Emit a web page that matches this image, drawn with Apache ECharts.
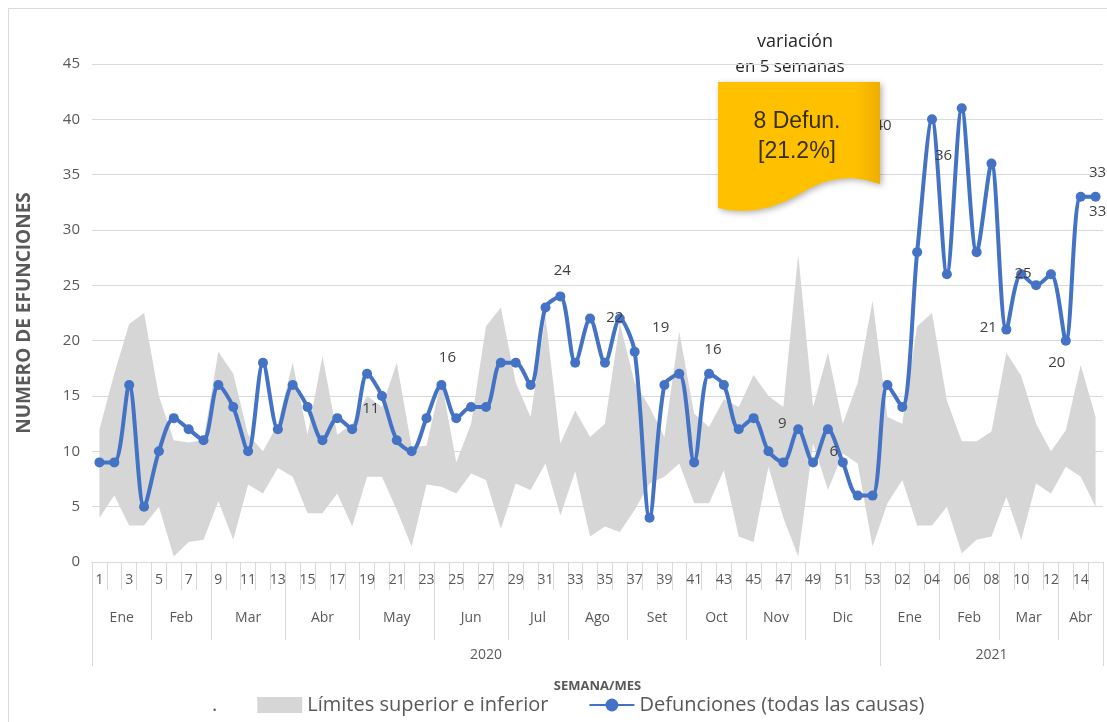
<!DOCTYPE html>
<html>
<head>
<meta charset="utf-8">
<script src="https://cdn.jsdelivr.net/npm/echarts@6/dist/echarts.min.js"></script>
<style>
  html, body { margin: 0; padding: 0; background: #fff; }
  #chart { width: 1107px; height: 722px; }
</style>
</head>
<body>
<div id="chart"></div>
<script>
// ---------------- data ----------------

// week labels: 2020 weeks 1..53, then 2021 weeks 01..15
const weekLabels = [
  "1","2","3","4","5","6","7","8","9","10","11","12","13","14","15","16","17","18","19","20",
  "21","22","23","24","25","26","27","28","29","30","31","32","33","34","35","36","37","38","39","40",
  "41","42","43","44","45","46","47","48","49","50","51","52","53",
  "01","02","03","04","05","06","07","08","09","10","11","12","13","14","15"
];

const months = ["Ene","Feb","Mar","Abr","May","Jun","Jul","Ago","Set","Oct","Nov","Dic","Ene","Feb","Mar","Abr"];
const monthWeeks = [4, 4, 5, 5, 5, 5, 4, 4, 4, 4, 4, 5, 4, 4, 4, 3];

const years = ["2020", "2021"];
const yearWeeks = [53, 15];

// Defunciones (todas las causas)
const deaths = [
  9, 9, 16, 5, 10, 13, 12, 11, 16, 14, 10, 18, 12, 16, 14, 11, 13, 12, 17, 15,
  11, 10, 13, 16, 13, 14, 14, 18, 18, 16, 23, 24, 18, 22, 18, 22, 19, 4, 16, 17,
  9, 17, 16, 12, 13, 10, 9, 12, 9, 12, 9, 6, 6,
  16, 14, 28, 40, 26, 41, 28, 36, 21, 26, 25, 26, 20, 33, 33
];

// Limites superior e inferior
const upperLimit = [
  12, 17, 21.5, 22.5, 15, 11, 10.8, 11, 19, 17, 11.5, 10, 12.5, 18, 11.5, 18.6, 11.5, 12.5, 15, 14,
  18, 10.4, 10.5, 16.4, 9, 12.5, 21.3, 23, 16.2, 13.1, 22.2, 10.7, 13.7, 11.3, 12.5, 21.6, 16.2, 14, 11.3, 20.8,
  13.4, 12.2, 14.7, 14, 16.9, 15, 14, 27.8, 14, 18.9, 12.5, 16.2, 23.6,
  13.1, 12.5, 21.3, 22.5, 14.6, 10.9, 10.9, 11.8, 18.9, 16.8, 12.5, 10, 11.9, 17.8, 13.1
];
const lowerLimit = [
  4, 6, 3.3, 3.3, 5, 0.5, 1.8, 2, 5.5, 2, 7, 6.2, 8.5, 7.7, 4.4, 4.4, 6.2, 3.2, 7.7, 7.7,
  4.7, 1.4, 7, 6.8, 6.2, 8, 7.4, 3, 7.1, 6.5, 8.9, 4.2, 8.2, 2.3, 3.2, 2.7, 4.7, 7.1, 7.7, 8.9,
  5.3, 5.3, 8.3, 2.3, 1.8, 8.6, 4, 0.5, 10.7, 6.5, 9.8, 8.9, 1.4,
  5.3, 7.4, 3.3, 3.3, 5, 0.8, 2, 2.3, 5.9, 2, 7.1, 6.2, 8.6, 7.7, 5
];

// ---------------- label placement (Excel-style, offsets in px from point) ----------------

const labelOffsets = {
  20: [-26, -32],
  23: [6, -27],
  31: [2, -26],
  35: [-5, -1],
  36: [26, -24],
  42: [-11, -35],
  46: [-1, -39],
  51: [-24, -44],
  56: [-49, 6],
  60: [-48, -8],
  61: [-18, -2],
  63: [-13, -12],
  65: [-9, 22],
  66: [17, 15],
  67: [2, -24],
};

// ---------------- helpers ----------------

function cumulative(list) {
  const out = [0];
  for (const n of list) out.push(out[out.length - 1] + n);
  return out;
}

const monthBounds = cumulative(monthWeeks);
const monthCenters = months.map((_, i) => (monthBounds[i] + monthBounds[i + 1]) / 2);
const yearBounds = cumulative(yearWeeks);
const yearCenters = years.map((_, i) => (yearBounds[i] + yearBounds[i + 1]) / 2);
const nCat = weekLabels.length;

const bandData = upperLimit.map((u, i) => +(u - lowerLimit[i]).toFixed(2));

const deathData = deaths.map((v, i) => {
  const off = labelOffsets[i];
  if (!off) return v;
  return { value: v, label: { show: true, position: "inside", offset: off } };
});

const textColor = "#595959";
const gridColor = "#d9d9d9";
const font = "'Open Sans', sans-serif";

// callout outline ("document" shape with wavy bottom), local px
const calloutShape = [
  [0, 0], [162, 0], [162, 102], [148, 98], [134, 96], [120, 97], [106, 100],
  [92, 106], [80, 113], [66, 120], [52, 125], [38, 128], [24, 129], [10, 128], [0, 126]
];

// ---------------- chart ----------------

const chart = echarts.init(document.getElementById("chart"));

chart.setOption({
  animation: false,
  textStyle: { fontFamily: font },
  grid: { left: 92, right: 4, top: 64, bottom: 160, containLabel: false, outerBoundsMode: "none" },

  legend: {
    left: 157,
    top: 690,
    itemGap: 40,
    itemWidth: 45,
    itemHeight: 16,
    textStyle: { color: textColor, fontSize: 20, fontFamily: font },
    data: [
      { name: ".", icon: "none" },
      { name: "Límites superior e inferior", icon: "rect", itemStyle: { color: "#d6d6d6" } },
      { name: "Defunciones (todas las causas)" },
    ],
  },

  xAxis: [
    {
      type: "category",
      position: "bottom",
      data: weekLabels,
      boundaryGap: true,
      axisLine: { lineStyle: { color: gridColor } },
      axisTick: { show: true, interval: 0, length: 28, lineStyle: { color: gridColor } },
      axisLabel: { interval: 1, color: textColor, fontSize: 14, margin: 11 },
      splitLine: { show: false },
    },
    {
      type: "value",
      position: "bottom",
      min: 0,
      max: nCat,
      axisLine: { show: false },
      splitLine: { show: false },
      axisTick: {
        show: true,
        length: 78,
        customValues: monthBounds,
        lineStyle: { color: gridColor },
      },
      axisLabel: {
        customValues: monthCenters,
        color: textColor,
        fontSize: 14,
        margin: 49,
        formatter: (v) => months[monthCenters.indexOf(v)] ?? "",
      },
    },
    {
      type: "value",
      position: "bottom",
      min: 0,
      max: nCat,
      name: "SEMANA/MES",
      nameLocation: "middle",
      nameGap: 118,
      nameTextStyle: { color: textColor, fontSize: 13, fontWeight: "bold" },
      axisLine: { show: false },
      splitLine: { show: false },
      axisTick: {
        show: true,
        length: 104,
        customValues: yearBounds,
        lineStyle: { color: gridColor },
      },
      axisLabel: {
        customValues: yearCenters,
        color: textColor,
        fontSize: 14,
        margin: 86,
        formatter: (v) => years[yearCenters.indexOf(v)] ?? "",
      },
    },
  ],

  yAxis: {
    type: "value",
    min: 0,
    max: 45,
    interval: 5,
    name: "NUMERO DE EFUNCIONES",
    nameLocation: "middle",
    nameGap: 58,
    nameTextStyle: { color: textColor, fontSize: 19, fontWeight: "bold" },
    axisLine: { show: false },
    axisTick: { show: false },
    axisLabel: { color: textColor, fontSize: 15, margin: 12 },
    splitLine: { lineStyle: { color: gridColor } },
  },

  series: [
    {
      name: ".",
      type: "line",
      stack: "band",
      data: lowerLimit,
      symbol: "none",
      lineStyle: { opacity: 0 },
      itemStyle: { color: "#ffffff" },
      silent: true,
      z: 1,
    },
    {
      name: "Límites superior e inferior",
      type: "line",
      stack: "band",
      data: bandData,
      symbol: "none",
      lineStyle: { width: 0, opacity: 0 },
      areaStyle: { color: "#d6d6d6", opacity: 1 },
      itemStyle: { color: "#d6d6d6" },
      silent: true,
      z: 1,
    },
    {
      name: "Defunciones (todas las causas)",
      type: "line",
      data: deathData,
      smooth: 0.3,
      symbol: "circle",
      symbolSize: 10,
      showAllSymbol: true,
      lineStyle: { color: "#4472c4", width: 4 },
      itemStyle: { color: "#4472c4" },
      label: { show: false, color: "#404040", fontSize: 15 },
      z: 3,
    },
  ],

  graphic: [
    {
      type: "rect",
      silent: true,
      shape: { x: 8.5, y: 8.5, width: 1120, height: 730 },
      style: { fill: "none", stroke: "#d9d9d9", lineWidth: 1 },
    },
    {
      type: "text",
      x: 795,
      y: 42,
      style: {
        text: "variación", fill: "#262626", fontSize: 18, fontFamily: font,
        align: "center", verticalAlign: "middle",
      },
    },
    {
      type: "text",
      x: 790,
      y: 67,
      style: {
        text: "en 5 semanas", fill: "#262626", fontSize: 17, fontFamily: font,
        align: "center", verticalAlign: "middle",
      },
    },
    {
      type: "polygon",
      x: 718,
      y: 82,
      z: 10,
      shape: { points: calloutShape },
      style: {
        fill: {
          type: "linear", x: 0, y: 0, x2: 1, y2: 0,
          colorStops: [
            { offset: 0, color: "#ffc000" },
            { offset: 0.85, color: "#ffc000" },
            { offset: 1, color: "#f0ae00" },
          ],
        },
        shadowBlur: 6,
        shadowOffsetX: 2,
        shadowOffsetY: 2,
        shadowColor: "rgba(0,0,0,0.3)",
      },
    },
    {
      type: "text",
      x: 797,
      y: 137,
      z: 11,
      style: {
        text: "8 Defun.\n[21.2%]",
        fill: "#3a2f00",
        fontSize: 23,
        lineHeight: 30,
        fontFamily: "'Liberation Sans', Arial, sans-serif",
        align: "center",
        verticalAlign: "middle",
      },
    },
  ],
});
</script>
</body>
</html>
